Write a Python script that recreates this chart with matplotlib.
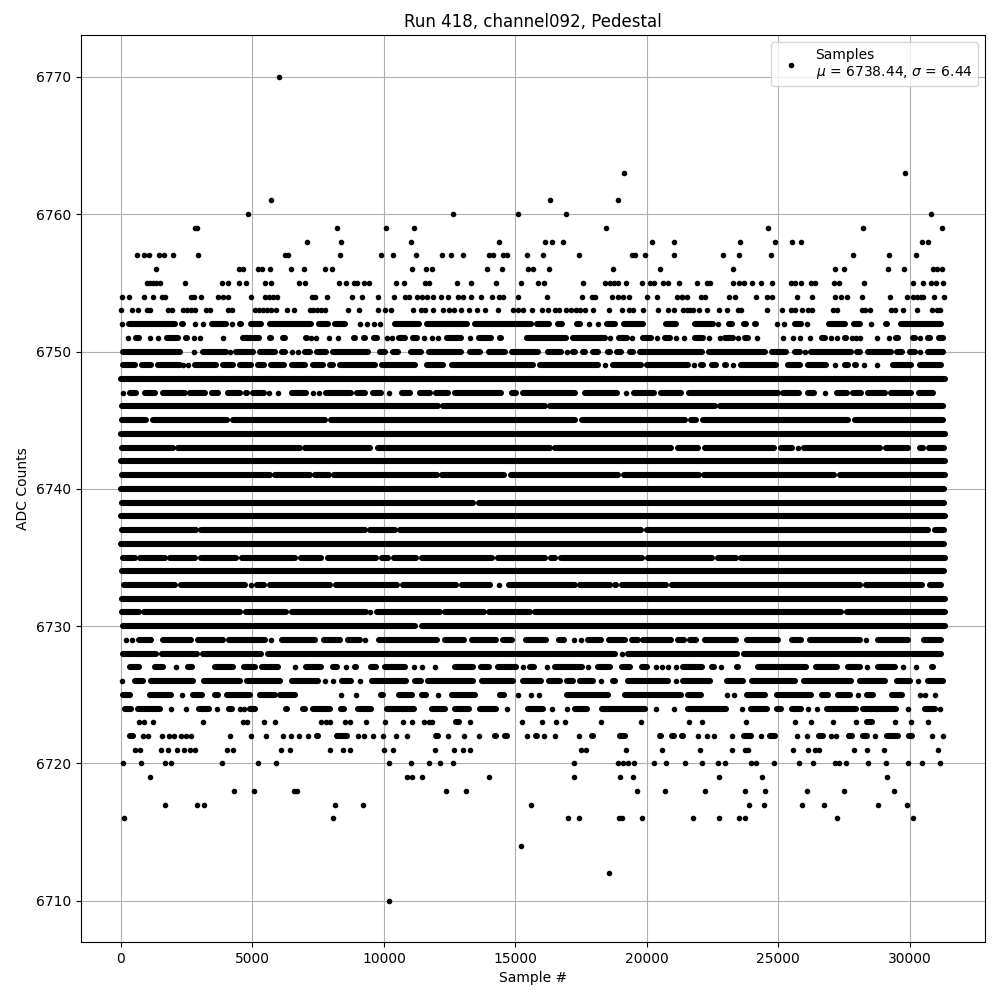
import matplotlib
matplotlib.use('Agg')
import matplotlib.pyplot as plt

# ---------------------------------------------------
# sample numbers, one list per ADC level
# sparse levels: single samples

samples_6770 = [6000]
samples_6763 = [19139, 29830]
samples_6761 = [5708, 16324, 18910]
samples_6760 = [4833, 12634, 15106, 16932, 30819]
samples_6759 = [2804, 2905, 8218, 10082, 11150, 18454, 24618, 28232, 31237]
samples_6758 = [7077, 8370, 11036, 14384, 16133, 16400, 16818, 20204, 21041, 23553, 24884, 25531, 25874, 30476, 30705]
samples_6757 = [610, 877, 1054, 1447, 1637, 1980, 2931, 6240, 6367, 8345, 9892, 10348, 11226, 12215, 12558, 13014,
                14003, 14155, 14536, 14688, 15449, 16057, 17427, 19430, 19544, 19937, 21041, 22906, 23515, 24732,
                27852, 29221, 30248]
samples_6756 = [1333, 4490, 4642, 5226, 5365, 5669, 6468, 6963, 7762, 8028, 11074, 11607, 11835, 13927, 14498, 15487,
                15677, 16286, 18720, 20508, 23287, 27167, 27509, 29183, 29792, 30895, 31022, 31237]
samples_6755 = [1003, 1092, 1219, 1346, 1485, 2436, 3844, 4072, 4490, 4757, 5479, 5708, 6773, 7001, 8294, 8561, 8865,
                8979, 9245, 9435, 10463, 10770, 11569, 11721, 12786, 13319, 14270, 15221, 15867, 16095, 17579, 18416,
                18593, 18758, 18910, 19215, 19823, 20115, 20280, 20622, 20812, 21231, 21916, 22298, 22399, 23287,
                23515, 23705, 24010, 24352, 24770, 25493, 25645, 25874, 26254, 26406, 27129, 27319, 28270, 30134,
                30514, 30819, 31009, 31275]
samples_6754 = [40, 306, 877, 1219, 1561, 1663, 2664, 2778, 3045, 3679, 3882, 4072, 4947, 5479, 5631, 5784, 5936, 7267,
                7381, 7838, 8789, 9169, 9778, 10387, 10795, 10960, 11264, 11455, 11645, 11873, 12165, 12444, 12824,
                13014, 13319, 13699, 14117, 14384, 14536, 15106, 16210, 17541, 17909, 18035, 18682, 18910, 19100,
                19329, 19988, 20369, 21155, 21320, 21535, 21334, 22070, 22222, 23135, 23363, 24162, 24580, 24770,
                25721, 26292, 27167, 27395, 27623, 28194, 29259, 29893, 30134, 30286, 30438, 30514, 30933, 31313]
samples_6753 = [2, 420, 648, 991, 1092, 1789, 1941, 2360, 2512, 2664, 2816, 3235, 3387, 4072, 4224, 5099, 5251, 5403,
                5555, 5708, 5898, 6316, 6583, 7191, 7305, 7457, 7609, 7762, 8637, 9055, 9778, 10044, 10272, 11112,
                11417, 11569, 11873, 12253, 12482, 12672, 12938, 13242, 13547, 13851, 14346, 14916, 15100, 15300,
                15639, 16019, 16248, 16514, 16666, 16932, 17100, 17290, 17452, 17655, 17959, 18568, 19063, 19329,
                19481, 19861, 20432, 20812, 21041, 21385, 21535, 21638, 21765, 21993, 22298, 22754, 23059, 23477,
                23591, 24580, 25151, 25493, 25645, 25911, 26140, 26292, 27091, 27243, 28194, 28308, 28498, 29297,
                29449, 29754, 30286, 30857, 31047, 31161]
samples_6721 = [534, 724, 1523, 1789, 2132, 2398, 2626, 2816, 4034, 4262, 6088, 6430, 7952, 8446, 8713, 10006, 10348,
                11949, 12672, 13014, 13280, 17503, 17693, 19215, 20584, 22031, 23249, 23743, 23857, 25569, 26140,
                26406, 26558, 27890, 28384, 29031, 31085]
samples_6720 = [78, 762, 1675, 1904, 3844, 5213, 5898, 10196, 11036, 11721, 12139, 12634, 17237, 18910, 19100, 19291,
                19506, 20280, 20736, 21459, 22108, 22716, 22982, 23972, 24162, 24846, 25797, 26330, 27167, 27319,
                27585, 28422, 29107, 29944, 30476, 31161]
samples_6719 = [1105, 10884, 11074, 11455, 14003, 17237, 18986, 19481, 22754, 24390, 29145]
samples_6718 = [4300, 5061, 6570, 6697, 12368, 13128, 19633, 20698, 22222, 23743, 24504, 26102, 27509, 29411]
samples_6717 = [1675, 2893, 3159, 8142, 9207, 15601, 23895, 24466, 25911, 26748, 28803, 29906]
samples_6716 = [116, 8066, 17009, 17427, 18948, 19063, 19823, 21763, 22754, 23515, 23743, 27243, 30134]
samples_6714 = [15220]
samples_6712 = [18557]
samples_6710 = [10186]

# denser levels: (first, last) sample of each unbroken stretch of dots
runs_6752 = [(40, 40), (230, 2106), (2233, 2436), (2804, 2804), (3121, 3121), (3387, 4072), (4224, 4224), (4452, 4642),
             (4871, 5403), (5593, 7305), (7457, 7939), (8066, 8573), (9093, 9093), (9359, 9359), (9626, 9626),
             (9854, 9854), (10348, 11417), (11569, 13242), (13395, 15677), (15753, 16362), (16552, 16856),
             (17275, 17541), (17795, 17795), (18137, 18137), (18416, 18847), (19063, 19937), (20356, 20508),
             (20660, 21193), (21763, 22589), (22716, 22716), (23059, 23325), (23629, 23857), (24048, 24238),
             (24948, 24948), (25227, 25227), (25569, 25950), (26102, 26102), (26863, 27598), (27814, 28181),
             (28536, 28536), (29018, 29221), (29601, 31275)]
runs_6751 = [(268, 268), (496, 762), (1092, 1092), (1409, 1409), (1675, 2233), (2398, 2588), (2778, 2778), (3007, 3007),
             (3882, 3882), (4135, 4300), (4554, 5327), (5593, 5758), (6088, 6316), (6963, 7153), (7229, 7229),
             (7432, 7432), (7914, 7914), (8256, 8256), (8789, 8979), (9157, 9334), (9550, 9816), (10120, 10120),
             (10310, 10310), (10500, 10884), (11036, 11340), (11531, 11531), (11835, 11835), (12063, 12063),
             (12330, 13014), (13280, 13280), (13547, 14155), (14346, 14536), (14764, 14916), (15373, 17009),
             (17122, 18467), (18606, 18606), (18872, 19329), (19443, 19443), (19785, 20242), (20394, 20394),
             (20622, 20939), (21117, 21117), (21383, 21410), (21765, 22209), (22374, 22374), (22792, 22792),
             (22906, 23350), (23477, 23477), (23667, 23921), (24200, 24200), (25189, 25189), (25569, 25569),
             (25759, 25886), (26216, 26216), (26584, 26837), (27015, 27015), (27243, 27243), (27471, 27661),
             (27814, 27814), (27966, 27966), (28118, 28118), (28765, 28765), (29145, 29272), (29411, 29627),
             (30058, 30261), (30387, 30387), (30616, 30831), (31022, 31338)]
runs_6750 = [(0, 2297), (2461, 2614), (2791, 2791), (3045, 4072), (4135, 4135), (4300, 5086), (5213, 5910), (6037, 6291),
             (6519, 6519), (6735, 6735), (6925, 7242), (7369, 7876), (8003, 9461), (9778, 10120), (10285, 10605),
             (10960, 11493), (11645, 13014), (13204, 13712), (13927, 14663), (14815, 15931), (16184, 16818),
             (16945, 16945), (17135, 17325), (17516, 17706), (17896, 18213), (18441, 18657), (18784, 19100),
             (19291, 19544), (19671, 22184), (22298, 24555), (24682, 25379), (25569, 25886), (26013, 26013),
             (26178, 27852), (27915, 28169), (28359, 29373), (29437, 29779), (29944, 30261), (30387, 30387),
             (30616, 31338)]
runs_6749 = [(14, 585), (712, 1219), (1346, 2297), (2360, 2360), (2550, 2550), (2740, 3691), (3818, 4325), (4452, 5023),
             (5150, 5505), (5631, 6265), (6418, 7052), (7242, 7749), (7876, 8129), (8256, 9714), (9841, 11239),
             (11556, 12317), (12507, 15740), (15867, 18213), (18416, 18416), (18657, 19861), (19925, 21638),
             (21791, 21791), (21993, 22209), (22399, 22716), (22906, 23097), (23287, 23287), (23515, 24999),
             (25290, 25886), (26051, 26901), (27154, 27154), (27471, 27725), (27852, 28042), (28257, 28257),
             (28739, 28739), (29310, 30134), (30324, 31275)]
runs_6748 = [(-80, 31400)]
runs_6747 = [(65, 65), (268, 648), (838, 1371), (1536, 2487), (2550, 3248), (3374, 3755), (3983, 4579), (4668, 4858),
             (4959, 5492), (5631, 5631), (5974, 5974), (6418, 7115), (7305, 7305), (7534, 7534), (7711, 8827),
             (8890, 9334), (9524, 9943), (10196, 10196), (10605, 11074), (11302, 11810), (11911, 12507), (12634, 14536),
             (14815, 15106), (15233, 17326), (17579, 18948), (19215, 19215), (19443, 20343), (20470, 21358),
             (21537, 25062), (25125, 25848), (26076, 26431), (26774, 26774), (27167, 27699), (27788, 28207),
             (28333, 29120), (29221, 30134), (30261, 30958)]
runs_6746 = [(-30, 12127), (12190, 16184), (16248, 22653), (22716, 31338)]
runs_6745 = [(-50, 1029), (1156, 4110), (4199, 7812), (7914, 17325), (17452, 21512), (21613, 21955), (22082, 27725),
             (27852, 31338)]
runs_6744 = [(-80, 31400)]
runs_6743 = [(-49, 2043), (2106, 6861), (6925, 9524), (9714, 16374), (16438, 20999), (21104, 22019), (22146, 24910),
             (25037, 25595), (25759, 25759), (25924, 28929), (29018, 30007), (30324, 30578), (30667, 31377)]
runs_6742 = [(-80, 31400)]
runs_6741 = [(-50, 5720), (5784, 7242), (7305, 7965), (8040, 12089), (12127, 14625), (14764, 18974), (19063, 22044),
             (22120, 27192), (27281, 31402)]
runs_6740 = [(-80, 31380)]
runs_6739 = [(-50, 13460), (13530, 31380)]
runs_6738 = [(-80, 31400)]
runs_6737 = [(-24, 2905), (2968, 9334), (9397, 10500), (10560, 19861), (19950, 30768), (30870, 31377)]
runs_6736 = [(-80, 31380)]
runs_6735 = [(0, 585), (661, 1726), (1802, 2867), (2968, 4452), (4516, 6671), (6760, 7686), (7812, 9778), (9841, 10222),
             (10320, 11302), (11366, 14193), (14283, 16210), (16273, 16565), (16654, 19887), (19963, 22564),
             (22627, 23452), (23515, 31402)]
runs_6734 = [(-50, 31380)]
runs_6733 = [(52, 2106), (2208, 4769), (4959, 4959), (5086, 5492), (5593, 8028), (8104, 10560), (10643, 12824),
             (12887, 14092), (14384, 14384), (14688, 17325), (17389, 18657), (18720, 18910), (18974, 20812),
             (20902, 28169), (28270, 30552), (30705, 31250)]
runs_6732 = [(-30, 31390)]
runs_6731 = [(-24, 737), (813, 4579), (4668, 6355), (6418, 9372), (9461, 9461), (9651, 12190), (12253, 13876),
             (13927, 15614), (15677, 27471), (27560, 31402)]
runs_6730 = [(0, 11239), (11366, 31400)]
runs_6729 = [(204, 204), (420, 420), (610, 1219), (1536, 2740), (2867, 3945), (4034, 5530), (5695, 5695), (6063, 7432),
             (7660, 8383), (8573, 9144), (9283, 9283), (9752, 12101), (12253, 13116), (13268, 14346), (14472, 14942),
             (15322, 16248), (16590, 16920), (17237, 17237), (17490, 17490), (17706, 18340), (18492, 19227),
             (19379, 19734), (19798, 21003), (21129, 21485), (21573, 21955), (22146, 23477), (23730, 25062),
             (25442, 25950), (26140, 28169), (28333, 28333), (28739, 30007), (30489, 31275)]
runs_6728 = [(0, 1409), (1472, 2968), (3058, 5403), (5530, 18847), (19037, 19037), (19227, 23515), (23629, 31275)]
runs_6727 = [(268, 737), (1219, 1663), (2094, 2094), (2487, 2766), (3501, 4325), (4617, 5150), (5276, 6037),
             (6545, 6671), (6950, 7686), (8003, 8294), (8548, 8548), (8827, 9017), (9435, 9778), (9968, 10859),
             (11150, 11150), (11455, 11455), (11936, 11936), (12634, 13458), (13623, 14054), (14282, 15106),
             (15297, 15297), (15487, 15778), (16210, 16210), (16438, 17605), (17769, 17769), (18061, 18657),
             (18974, 19417), (19734, 20090), (20331, 20331), (20584, 20584), (20812, 20812), (21104, 21104),
             (21319, 22171), (22399, 22627), (22830, 22830), (23350, 23540), (24174, 26140), (26355, 27294),
             (27598, 28169), (28384, 28384), (28739, 29500), (29754, 29754), (30248, 30248), (30768, 30959)]
runs_6726 = [(40, 40), (458, 902), (1067, 2804), (3083, 4579), (4718, 6101), (6443, 7559), (7749, 7749), (8066, 8066),
             (8320, 8827), (9080, 9080), (9461, 10922), (11112, 11493), (11619, 13458), (13674, 14980), (15221, 16057),
             (16210, 16755), (16882, 17262), (17389, 18023), (18238, 18238), (18657, 18847), (19227, 20876),
             (21104, 21104), (21319, 22463), (22970, 23731), (23921, 25696), (25924, 27826), (28042, 29119),
             (29437, 30071), (30324, 30324), (30641, 31338)]
runs_6725 = [(1, 394), (686, 838), (1029, 1980), (2335, 2335), (2677, 3146), (3501, 3755), (3945, 4960), (5213, 5910),
             (5974, 6671), (8370, 8370), (8941, 8941), (9816, 10031), (10500, 11138), (11366, 11683), (12063, 12063),
             (12507, 13547), (14346, 14637), (15106, 15106), (15601, 15601), (15905, 15905), (16438, 16590),
             (16882, 18593), (19100, 21385), (21500, 22146), (22970, 23097), (23325, 23325), (23731, 24555),
             (24872, 26330), (26584, 26964), (27218, 27789), (28017, 28017), (28295, 28676), (29246, 29779),
             (30387, 30387), (30590, 30590), (30971, 30971)]
runs_6724 = [(78, 458), (585, 1536), (1904, 1904), (2487, 2487), (2893, 3412), (3653, 3653), (4034, 4300), (4516, 4516),
             (4668, 4668), (4833, 5150), (5631, 5784), (6202, 6392), (6836, 7077), (7242, 8003), (8294, 8548),
             (8941, 9588), (10031, 11214), (11746, 12380), (12634, 13293), (13585, 14346), (14688, 14688),
             (15398, 16133), (16400, 16400), (16970, 16970), (17199, 17807), (18213, 19988), (20356, 20356),
             (21041, 21041), (21512, 23097), (23629, 23629), (23895, 24656), (24872, 25189), (25442, 25950),
             (26140, 26140), (26482, 26482), (26786, 28042), (28169, 29563), (29931, 29931), (30514, 31022),
             (31148, 31148)]
runs_6723 = [(686, 686), (877, 877), (1219, 1219), (3121, 3121), (4642, 4642), (4807, 4807), (5441, 5441), (5860, 5860),
             (7609, 7609), (7787, 7787), (7952, 7952), (8522, 8522), (8700, 8700), (9321, 9321), (10044, 10044),
             (10732, 10732), (11074, 11074), (11531, 11531), (11721, 11721), (11835, 11835), (12672, 12938),
             (13280, 13280), (15259, 15259), (16019, 16019), (16552, 16552), (16894, 16894), (18264, 18264),
             (19785, 19785), (21611, 21611), (22108, 22108), (23781, 23781), (25569, 25696), (26254, 26254),
             (27015, 27129), (27966, 27966), (28308, 28650), (28879, 29031), (29449, 29449), (30058, 30058),
             (30705, 30705)]
runs_6722 = [(268, 534), (838, 838), (1029, 1029), (1561, 1561), (1827, 1827), (2018, 2018), (2284, 2284), (2474, 2474),
             (2664, 2664), (4148, 4148), (4896, 5023), (5505, 5505), (6151, 6151), (6468, 6468), (6773, 6773),
             (7115, 7115), (7381, 7559), (8142, 8675), (9017, 9017), (9245, 9245), (9588, 9588), (9968, 9968),
             (10450, 10450), (10884, 10884), (11911, 12139), (12444, 12444), (13052, 13052), (13623, 13623),
             (14155, 14346), (14536, 14764), (15449, 15449), (15715, 15905), (16095, 16095), (16514, 16514),
             (17427, 17427), (17858, 18035), (18910, 19227), (19481, 19633), (20432, 20622), (20888, 21117),
             (21258, 21461), (21955, 21955), (22298, 22298), (22526, 22602), (23249, 23249), (23629, 24048),
             (24352, 24352), (24618, 24961), (25721, 25721), (26102, 26102), (26482, 26786), (27015, 27015),
             (27205, 27205), (27623, 27890), (28156, 28460), (28689, 28689), (29069, 29627), (29906, 30172),
             (30857, 30857), (31275, 31275)]

point_rows = [(6770, samples_6770), (6763, samples_6763), (6761, samples_6761), (6760, samples_6760),
              (6759, samples_6759), (6758, samples_6758), (6757, samples_6757), (6756, samples_6756),
              (6755, samples_6755), (6754, samples_6754), (6753, samples_6753), (6721, samples_6721),
              (6720, samples_6720), (6719, samples_6719), (6718, samples_6718), (6717, samples_6717),
              (6716, samples_6716), (6714, samples_6714), (6712, samples_6712), (6710, samples_6710)]
run_rows = [(6752, runs_6752), (6751, runs_6751), (6750, runs_6750), (6749, runs_6749), (6748, runs_6748),
            (6747, runs_6747), (6746, runs_6746), (6745, runs_6745), (6744, runs_6744), (6743, runs_6743),
            (6742, runs_6742), (6741, runs_6741), (6740, runs_6740), (6739, runs_6739), (6738, runs_6738),
            (6737, runs_6737), (6736, runs_6736), (6735, runs_6735), (6734, runs_6734), (6733, runs_6733),
            (6732, runs_6732), (6731, runs_6731), (6730, runs_6730), (6729, runs_6729), (6728, runs_6728),
            (6727, runs_6727), (6726, runs_6726), (6725, runs_6725), (6724, runs_6724), (6723, runs_6723),
            (6722, runs_6722)]

mean_label = r'Samples' + '\n' + r'$\mu$ = 6738.44, $\sigma$ = 6.44'

# ---------------------------------------------------

# stretch ends were read at the outer edge of the dots, round caps add the radius back
inset = 70

fig, ax = plt.subplots(figsize=(10, 10), dpi=100)

x = []
y = []
for level, samples in point_rows:
    x += samples
    y += [level] * len(samples)

for level, runs in run_rows:
    for start, end in runs:
        if end - start <= 2 * inset:
            x.append((start + end) / 2)
            y.append(level)
        else:
            lines = ax.hlines(level, start + inset, end - inset, colors='k', linewidth=4.4, zorder=2.5)
            lines.set_capstyle('round')

ax.plot(x, y, 'k.', label=mean_label, zorder=2.5)

ax.set_xlim(-1540, 32860)
ax.set_ylim(6707, 6773.05)
ax.set_xlabel('Sample #')
ax.set_ylabel('ADC Counts')
ax.set_title('Run 418, channel092, Pedestal')
ax.grid(True)
ax.legend(loc='upper right')
fig.subplots_adjust(left=0.0805, right=0.985, top=0.965, bottom=0.058)
fig.savefig('out.png')
